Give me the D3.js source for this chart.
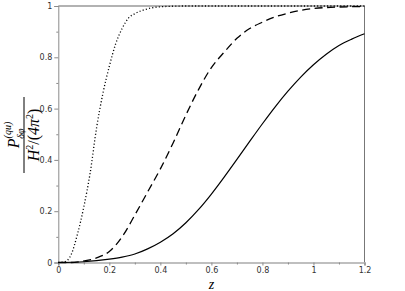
<!DOCTYPE html>
<html><head><meta charset="utf-8">
<script src="https://cdn.jsdelivr.net/npm/d3@7"></script>
<style>body{margin:0;background:#fff}svg{display:block}</style>
</head><body>
<script>
// z values and curve data
const zDotted = [0, 0.025, 0.05, 0.075, 0.1, 0.125, 0.15, 0.175, 0.2, 0.225, 0.25, 0.275, 0.3, 0.35, 0.4, 0.5, 0.7, 1.0, 1.2];
const vDotted = [0, 0.003, 0.03, 0.11, 0.217, 0.35, 0.525, 0.66, 0.765, 0.853, 0.912, 0.953, 0.97, 0.989, 0.997, 1.0, 1.0, 1.0, 1.0];

const zDashed = [0, 0.05, 0.1, 0.15, 0.2, 0.25, 0.3, 0.35, 0.4, 0.45, 0.5, 0.55, 0.6, 0.65, 0.7, 0.75, 0.8, 0.85, 0.9, 0.95, 1.0, 1.05, 1.1, 1.2];
const vDashed = [0, 0.0, 0.006, 0.018, 0.043, 0.10, 0.185, 0.275, 0.365, 0.466, 0.575, 0.675, 0.76, 0.82, 0.874, 0.912, 0.937, 0.958, 0.972, 0.983, 0.99, 0.994, 0.996, 0.998];

const zSolid = [0, 0.1, 0.15, 0.2, 0.25, 0.3, 0.35, 0.4, 0.45, 0.5, 0.55, 0.6, 0.65, 0.7, 0.75, 0.8, 0.85, 0.9, 0.95, 1.0, 1.05, 1.1, 1.15, 1.2];
const vSolid = [0, 0.003, 0.007, 0.013, 0.021, 0.033, 0.053, 0.079, 0.112, 0.155, 0.207, 0.267, 0.333, 0.402, 0.472, 0.541, 0.607, 0.668, 0.723, 0.771, 0.812, 0.846, 0.871, 0.892];

const xTicks = [0, 0.2, 0.4, 0.6, 0.8, 1, 1.2];
const xMinor = [0.1, 0.3, 0.5, 0.7, 0.9, 1.1];
const yTicks = [0, 0.2, 0.4, 0.6, 0.8, 1];
const yMinor = [0.1, 0.3, 0.5, 0.7, 0.9];

const W = 405, H = 291;
const svg = d3.select("body").append("svg").attr("width", W).attr("height", H);

const x = d3.scaleLinear().domain([0, 1.2]).range([58.3, 364.5]);
const y = d3.scaleLinear().domain([0, 1]).range([262.5, 6]);

const axisCol = "#8a8a8a";
const txtCol = "#333";

// frame top/right
svg.append("line").attr("x1", x(0)).attr("x2", x(1.2)).attr("y1", y(1)).attr("y2", y(1))
  .attr("stroke", "#666").attr("stroke-width", 1.2);
svg.append("line").attr("x1", x(1.2)).attr("x2", x(1.2)).attr("y1", y(1)).attr("y2", y(0))
  .attr("stroke", "#777").attr("stroke-width", 1);

// x axis
const gx = svg.append("g").attr("transform", `translate(0,${y(0)})`)
  .call(d3.axisBottom(x).tickValues(xTicks).tickSize(3).tickPadding(2)
    .tickFormat(d => d3.format("")(d)));
gx.select(".domain").attr("stroke", "#aaa").attr("stroke-width", 1.6);
gx.selectAll(".tick line").attr("stroke", axisCol);
gx.selectAll(".tick text").attr("fill", txtCol).style("font-family", "DejaVu Sans").style("font-size", "8px");
const gxm = svg.append("g").attr("transform", `translate(0,${y(0)})`)
  .call(d3.axisBottom(x).tickValues(xMinor).tickSize(2).tickFormat(""));
gxm.select(".domain").remove();
gxm.selectAll(".tick line").attr("stroke", axisCol);

// y axis
const gy = svg.append("g").attr("transform", `translate(${x(0)},0)`)
  .call(d3.axisLeft(y).tickValues(yTicks).tickSize(4).tickPadding(2)
    .tickFormat(d => d3.format("")(d)));
gy.select(".domain").attr("stroke", axisCol).attr("stroke-width", 1);
gy.selectAll(".tick line").attr("stroke", axisCol);
gy.selectAll(".tick text").attr("fill", txtCol).style("font-family", "DejaVu Sans").style("font-size", "8px");
const gym = svg.append("g").attr("transform", `translate(${x(0)},0)`)
  .call(d3.axisLeft(y).tickValues(yMinor).tickSize(2).tickFormat(""));
gym.select(".domain").remove();
gym.selectAll(".tick line").attr("stroke", axisCol);

// curves
const line = d3.line().x(d => x(d[0])).y(d => y(d[1])).curve(d3.curveMonotoneX);
const series = [
  {z: zDotted, v: vDotted, dash: "1.1,2.2", w: 1.3},
  {z: zDashed, v: vDashed, dash: "8,4.5", w: 1.3},
  {z: zSolid, v: vSolid, dash: null, w: 1.2}
];
series.forEach(s => {
  svg.append("path").datum(s.z.map((z, i) => [z, s.v[i]]))
    .attr("d", line).attr("fill", "none").attr("stroke", "#000")
    .attr("stroke-width", s.w).attr("stroke-dasharray", s.dash);
});

// x label
svg.append("text").attr("x", 211.5).attr("y", 288.5).attr("text-anchor", "middle")
  .style("font-family", "Liberation Serif").style("font-style", "italic").style("font-size", "14px")
  .attr("fill", "#000").text("z");

// y label (rotated fraction)
const yl = svg.append("g").attr("transform", "translate(24,135) rotate(-90)")
  .style("font-family", "Liberation Serif").attr("fill", "#000");
const num = yl.append("text").attr("x", 0).attr("y", -5).attr("text-anchor", "middle").style("font-size", "16px");
num.append("tspan").style("font-style", "italic").text("P");
num.append("tspan").attr("dy", -8).attr("dx", 0).style("font-size", "10px").style("font-style", "italic").text("(qu)");
num.append("tspan").attr("dy", 13).attr("dx", -17).style("font-size", "10px").style("font-style", "italic").text("δφ");
yl.append("line").attr("x1", -38).attr("x2", 38).attr("y1", 0).attr("y2", 0).attr("stroke", "#000").attr("stroke-width", 1);
const den = yl.append("text").attr("x", 0).attr("y", 15).attr("text-anchor", "middle").style("font-size", "16px");
den.append("tspan").style("font-style", "italic").text("H");
den.append("tspan").attr("dy", -6).style("font-size", "10px").text("2");
den.append("tspan").attr("dy", 6).text("/(");
den.append("tspan").style("font-style", "italic").text("4π");
den.append("tspan").attr("dy", -6).style("font-size", "10px").text("2");
den.append("tspan").attr("dy", 6).text(")");
</script>
</body></html>
